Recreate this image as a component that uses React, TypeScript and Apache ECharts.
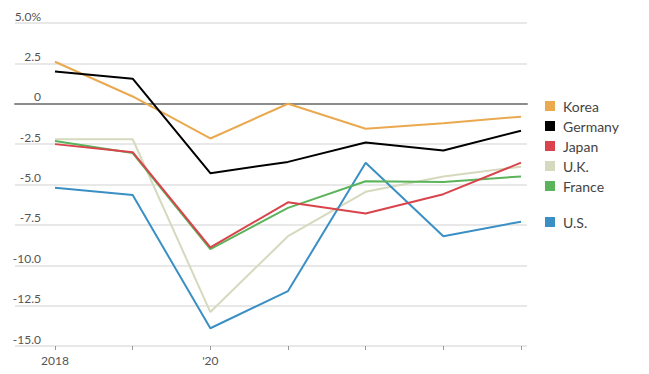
import React, { useEffect, useRef } from "react";
import * as echarts from "echarts";

const years = ["2018", "2019", "2020", "2021", "2022", "2023", "2024"];
const yearLabels = ["2018", "", "'20", "", "", "", ""];
const korea = [2.6, 0.45, -2.15, 0, -1.55, -1.2, -0.8];
const germany = [2.0, 1.55, -4.3, -3.6, -2.4, -2.9, -1.67];
const japan = [-2.5, -3.0, -8.9, -6.1, -6.8, -5.6, -3.65];
const uk = [-2.2, -2.2, -12.9, -8.2, -5.45, -4.5, -3.9];
const france = [-2.3, -3.05, -9.0, -6.45, -4.8, -4.85, -4.5];
const us = [-5.2, -5.65, -13.9, -11.6, -3.65, -8.2, -7.3];
const yTicks: Record<string, string> = {
  "5": "5.0%", "2.5": "2.5", "0": "0", "-2.5": "-2.5", "-5": "-5.0",
  "-7.5": "-7.5", "-10": "-10.0", "-12.5": "-12.5", "-15": "-15.0",
};

const colors = {
  Korea: "#eaa94f",
  Germany: "#000000",
  Japan: "#d9434c",
  "U.K.": "#d5d9bd",
  France: "#5bb35a",
  "U.S.": "#3a8fc4",
};

export default function App() {
  const ref = useRef<HTMLDivElement>(null);
  useEffect(() => {
    if (!ref.current) return;
    const chart = echarts.init(ref.current, undefined, { renderer: "svg" });
    const font = "Lato, 'Open Sans', sans-serif";
    const mk = (name: keyof typeof colors, data: number[]) => ({
      name,
      type: "line",
      xAxisIndex: 1,
      yAxisIndex: 1,
      data,
      symbol: "none",
      lineStyle: { width: 2, color: colors[name] },
      itemStyle: { color: colors[name] },
    });
    const legendText = { fontSize: 14, color: "#444", fontFamily: font, padding: [0, 0, 0, 3] };
    chart.setOption({
      animation: false,
      textStyle: { fontFamily: font },
      grid: [
        { left: 15, right: 122, top: 23, bottom: 28 },
        { left: 55, right: 128, top: 23, bottom: 28 },
      ],
      xAxis: [
        {
          type: "value",
          gridIndex: 0,
          min: 0,
          max: 1,
          axisLine: { show: true, onZero: true, lineStyle: { color: "#8c8c8c", width: 2 } },
          axisTick: { show: false },
          axisLabel: { show: false },
          splitLine: { show: false },
        },
        {
          type: "category",
          gridIndex: 1,
          data: years,
          boundaryGap: false,
          axisLine: { show: false, onZero: false },
          axisTick: { show: true, length: 4, alignWithLabel: true, lineStyle: { color: "#999" } },
          axisLabel: {
            interval: 0,
            formatter: (_v: string, i: number) => yearLabels[i],
            color: "#555",
            fontSize: 12,
            margin: 8,
            fontFamily: font,
          },
          splitLine: { show: false },
        },
      ],
      yAxis: [
        {
          type: "value",
          gridIndex: 0,
          min: -15,
          max: 5,
          interval: 2.5,
          axisLine: { show: false },
          axisTick: { show: false },
          axisLabel: {
            inside: true,
            align: "right",
            verticalAlign: "bottom",
            margin: 26,
            padding: [0, 0, 1, 0],
            color: "#555",
            fontSize: 12,
            fontFamily: font,
            formatter: (v: number) => yTicks[String(v)] ?? "",
          },
          splitLine: { show: true, lineStyle: { color: "#e8e8e8", width: 2 } },
        },
        {
          type: "value",
          gridIndex: 1,
          min: -15,
          max: 5,
          interval: 2.5,
          show: false,
          splitLine: { show: false },
        },
      ],
      legend: [
        {
          data: ["Korea", "Germany", "Japan", "U.K.", "France"],
          orient: "vertical",
          left: 540,
          top: 94,
          itemWidth: 10,
          itemHeight: 10,
          itemGap: 6,
          icon: "rect",
          selectedMode: false,
          textStyle: legendText,
        },
        {
          data: ["U.S."],
          orient: "vertical",
          left: 540,
          top: 210,
          itemWidth: 10,
          itemHeight: 10,
          icon: "rect",
          selectedMode: false,
          textStyle: legendText,
        },
      ],
      series: [
        mk("U.K.", uk),
        mk("U.S.", us),
        mk("France", france),
        mk("Japan", japan),
        mk("Korea", korea),
        mk("Germany", germany),
      ],
    });
    return () => chart.dispose();
  }, []);
  return <div ref={ref} style={{ width: 649, height: 374, position: "absolute", left: 0, top: 0 }} />;
}
